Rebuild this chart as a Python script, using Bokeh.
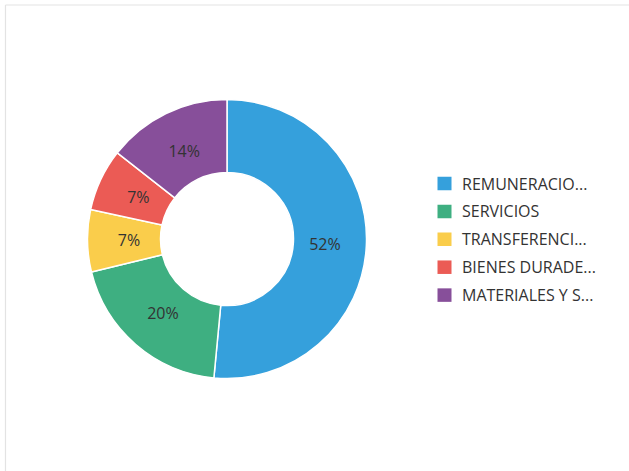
import math
from bokeh.plotting import figure
from bokeh.models import Range1d, ColumnDataSource
from bokeh.core.properties import value
from bokeh.embed import file_html
from bokeh.resources import INLINE

# ---- data ----
categories = ["REMUNERACIONES", "SERVICIOS", "TRANSFERENCIAS", "BIENES DURADEROS", "MATERIALES Y SUMINISTROS"]
legend_labels = ["REMUNERACIO...", "SERVICIOS", "TRANSFERENCI...", "BIENES DURADE...", "MATERIALES Y S..."]
shares = [51.5, 19.7, 7.2, 7.2, 14.4]
pct_labels = ["52%", "20%", "7%", "7%", "14%"]
colors = ["#35a0dc", "#3eaf81", "#facd4b", "#eb5b55", "#874f9a"]

W, H = 629, 471
FONT = "Open Sans"
TXT = "#333333"

p = figure(width=W, height=H, output_backend="svg", toolbar_location=None,
           x_range=Range1d(0, W), y_range=Range1d(0, H),
           min_border=0, min_border_left=0, min_border_right=0,
           min_border_top=0, min_border_bottom=0)
p.axis.visible = False
p.grid.visible = False
p.outline_line_color = None
p.background_fill_color = "white"
p.border_fill_color = "white"

# card border (top and left edges)
p.segment(x0=[5, 5], y0=[H - 4.5, H - 4.5], x1=[W, 5], y1=[H - 4.5, 0],
          line_color="#e3e3e3", line_width=1.2)

# donut geometry (pixels)
cx, cy = 226.5, H - 238.5
r_out, r_in = 139.5, 66.5

total = sum(shares)
starts, ends, mids = [], [], []
cum = 0.0
for v in shares:
    a0 = math.pi / 2 - 2 * math.pi * cum / total
    cum += v
    a1 = math.pi / 2 - 2 * math.pi * cum / total
    starts.append(a0)
    ends.append(a1)
    mids.append((a0 + a1) / 2)

r_mid = 98.0
src = ColumnDataSource(dict(
    cat=categories, share=shares, color=colors, start=starts, end=ends,
    lx=[cx + r_mid * math.cos(m) for m in mids],
    ly=[cy + r_mid * math.sin(m) for m in mids],
    lab=pct_labels,
))

p.annular_wedge(x=cx, y=cy, inner_radius=r_in, outer_radius=r_out,
                start_angle="start", end_angle="end", direction="clock",
                fill_color="color", line_color="white", line_width=1.5, source=src)

p.text(x="lx", y="ly", text="lab", source=src, text_font=value(FONT),
       text_font_size="16px", text_color=TXT, text_align="center",
       text_baseline="middle")

# legend
lg_x = 444.0
lg_y0 = H - 183.0
step = 27.9
leg = ColumnDataSource(dict(
    x=[lg_x] * len(legend_labels),
    y=[lg_y0 - i * step for i in range(len(legend_labels))],
    tx=[lg_x + 17.5] * len(legend_labels),
    lab=legend_labels,
    color=colors,
))
p.rect(x="x", y="y", width=14, height=13.5, fill_color="color", line_color=None, source=leg)
p.text(x="tx", y="y", text="lab", source=leg, text_font=value(FONT),
       text_font_size="16px", text_color=TXT, text_align="left",
       text_baseline="middle")

open("out.html", "w").write(file_html(p, INLINE))
